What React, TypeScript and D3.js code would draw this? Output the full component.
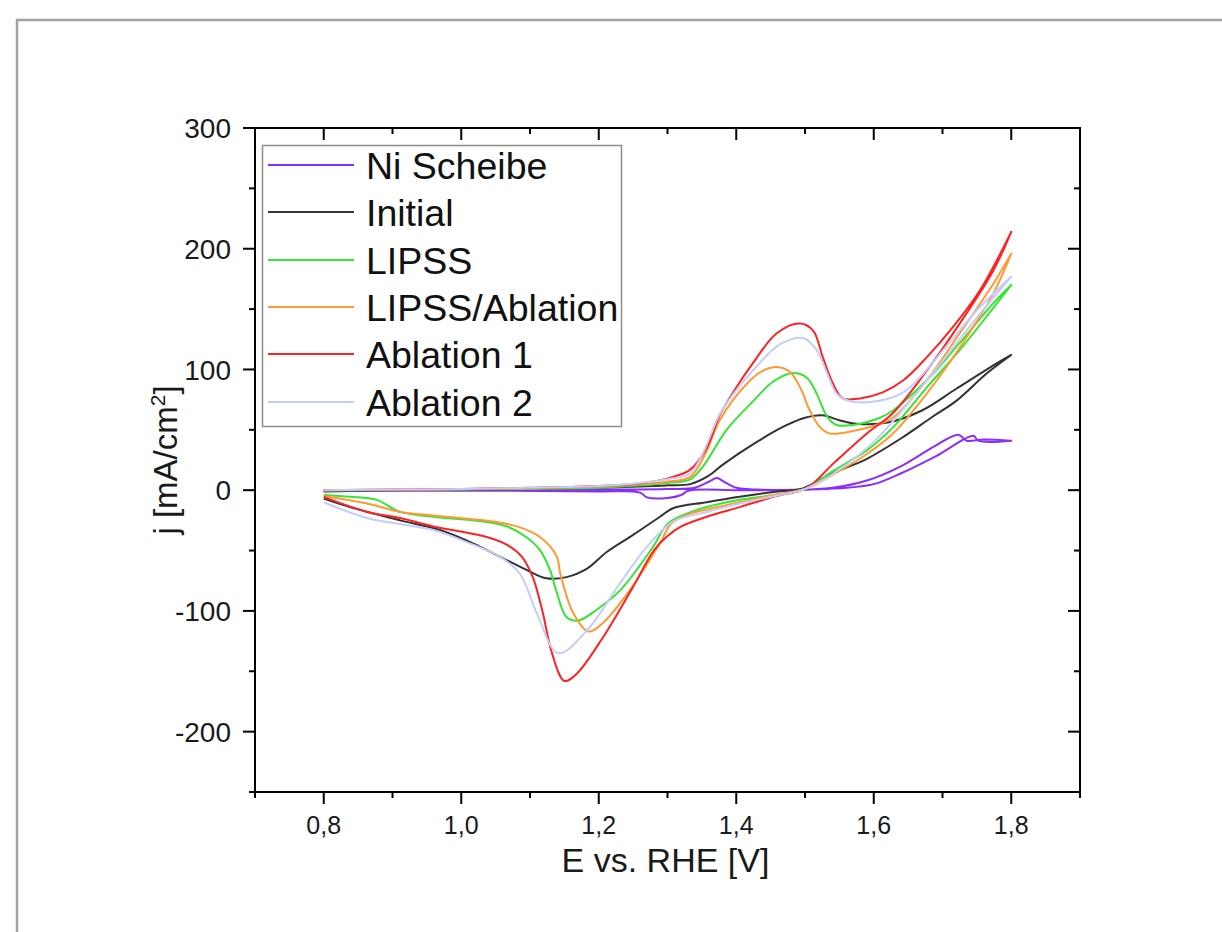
import React from "react";
import * as d3 from "d3";

type P = [number, number];

// Ni Scheibe
const niFwd: P[] = [[0.8,0],[0.9,0],[1.0,0],[1.1,0],[1.2,0.5],[1.3,1],[1.34,2],[1.36,7],[1.372,10],[1.385,6],[1.40,2],[1.43,0.5],[1.5,0.5],[1.55,1.5],[1.6,5],[1.64,14],[1.69,28],[1.745,45],[1.752,41],[1.8,41]];
const niBwd: P[] = [[1.8,41],[1.76,42],[1.735,41],[1.723,46],[1.69,37],[1.64,20],[1.59,8],[1.54,2],[1.48,0],[1.4,0],[1.33,-0.5],[1.32,-4],[1.30,-6.5],[1.27,-6],[1.26,-2],[1.2,-1],[1.0,-0.5],[0.8,-0.5]];
// Initial
const initFwd: P[] = [[0.8,-1],[0.9,0],[1.0,0.5],[1.1,1],[1.2,2],[1.26,3],[1.30,4],[1.333,5],[1.36,12],[1.38,21],[1.43,40],[1.47,53],[1.50,60],[1.525,62],[1.55,58],[1.575,55],[1.62,56],[1.67,66],[1.72,84],[1.77,102],[1.8,112]];
const initBwd: P[] = [[1.8,112],[1.765,97],[1.72,74],[1.686,61],[1.64,43],[1.59,26],[1.54,14],[1.497,1.5],[1.454,-1.5],[1.405,-5.5],[1.357,-10],[1.308,-15],[1.289,-22],[1.25,-37],[1.212,-51],[1.183,-65],[1.153,-72],[1.124,-73],[1.095,-66],[1.056,-55],[1.017,-44],[0.969,-33],[0.911,-25],[0.838,-14],[0.8,-7]];
// LIPSS
const lipssFwd: P[] = [[0.8,0],[0.9,0],[1.0,0.5],[1.1,1],[1.2,2],[1.26,4],[1.30,6],[1.333,9],[1.352,20],[1.386,50],[1.425,74],[1.454,90],[1.483,97],[1.503,93],[1.517,80],[1.532,61],[1.546,54],[1.57,54],[1.609,60],[1.628,66],[1.677,91],[1.725,122],[1.774,155],[1.8,170]];
const lipssBwd: P[] = [[1.8,170],[1.774,151],[1.725,116],[1.677,85],[1.628,52],[1.59,33],[1.541,16],[1.5,1],[1.454,-4],[1.405,-8],[1.357,-14],[1.33,-19],[1.30,-28],[1.279,-47],[1.231,-83],[1.197,-99],[1.17,-108],[1.153,-105],[1.138,-83],[1.129,-66],[1.115,-50],[1.095,-39],[1.066,-30],[1.032,-26],[0.959,-22],[0.911,-18],[0.877,-8],[0.838,-5.5],[0.8,-4]];
// LIPSS/Ablation
const lipssAblFwd: P[] = [[0.8,0],[0.9,0.3],[1.0,0.8],[1.1,1.5],[1.2,3],[1.26,5],[1.30,7],[1.333,11],[1.355,30],[1.376,58],[1.415,88],[1.439,99],[1.459,102],[1.478,98],[1.493,85],[1.507,66],[1.522,52],[1.536,47],[1.57,49],[1.609,55],[1.628,60],[1.677,91],[1.725,130],[1.774,171],[1.8,196]];
const lipssAblBwd: P[] = [[1.8,196],[1.774,163],[1.725,118],[1.677,80],[1.628,47],[1.59,30],[1.541,13],[1.5,1],[1.454,-4],[1.405,-10],[1.357,-16],[1.33,-20],[1.305,-28],[1.289,-44],[1.245,-83],[1.206,-110],[1.185,-117],[1.163,-102],[1.144,-69],[1.139,-55],[1.115,-39],[1.081,-30],[1.032,-25],[0.959,-21],[0.911,-18],[0.863,-11],[0.8,-5]];
// Ablation 1
const abl1Fwd: P[] = [[0.8,0],[0.9,0.5],[1.0,1],[1.1,2],[1.2,3.5],[1.26,5.5],[1.308,11],[1.333,17],[1.357,35],[1.376,62],[1.40,85],[1.424,105],[1.459,130],[1.493,138],[1.512,132],[1.526,110],[1.541,88],[1.555,76],[1.58,76],[1.613,81],[1.643,91],[1.677,110],[1.715,135],[1.755,166],[1.8,214]];
const abl1Bwd: P[] = [[1.8,214],[1.774,182],[1.725,138],[1.677,99],[1.628,64],[1.59,47],[1.541,22],[1.503,2],[1.454,-5.5],[1.405,-14],[1.357,-22],[1.32,-30],[1.30,-38],[1.28,-50],[1.25,-80],[1.206,-122],[1.168,-152],[1.15,-158],[1.132,-135],[1.118,-100],[1.104,-72],[1.088,-55],[1.066,-45],[1.032,-38],[0.959,-30],[0.911,-23],[0.863,-18],[0.8,-5.5]];
// Ablation 2
const abl2Fwd: P[] = [[0.8,0],[0.9,0.5],[1.0,1],[1.1,2],[1.2,3.5],[1.26,6],[1.30,9],[1.333,14],[1.355,35],[1.376,63],[1.424,99],[1.464,121],[1.497,126],[1.517,116],[1.532,97],[1.546,80],[1.561,74.5],[1.595,73],[1.643,81],[1.701,116],[1.75,149],[1.8,177]];
const abl2Bwd: P[] = [[1.8,177],[1.75,143],[1.7,107],[1.65,72],[1.6,40],[1.55,17],[1.5,1],[1.454,-5],[1.405,-11],[1.357,-18],[1.308,-26],[1.27,-47],[1.231,-77],[1.183,-116],[1.141,-135],[1.11,-102],[1.085,-69],[1.056,-55],[1.008,-43],[0.959,-33],[0.863,-23],[0.8,-10]];

const seriesNames = ["Ni Scheibe", "Initial", "LIPSS", "LIPSS/Ablation", "Ablation 1", "Ablation 2"];
const seriesColors = ["#8a2eff", "#333333", "#33e633", "#ff9933", "#ff2222", "#c4ccfa"];
const seriesData: P[][] = [
  [...niFwd, ...niBwd],
  [...initFwd, ...initBwd],
  [...lipssFwd, ...lipssBwd],
  [...lipssAblFwd, ...lipssAblBwd],
  [...abl1Fwd, ...abl1Bwd],
  [...abl2Fwd, ...abl2Bwd],
];

const xMajor = [0.8, 1.0, 1.2, 1.4, 1.6, 1.8];
const xMinor = [0.7, 0.9, 1.1, 1.3, 1.5, 1.7, 1.9];
const yMajor = [300, 200, 100, 0, -100, -200];
const yMinor = [250, 150, 50, -50, -150, -250];

const W = 1222, H = 932;
const L = 255, R = 1080, T = 128, B = 792;

export default function App() {
  const x = d3.scaleLinear().domain([0.7, 1.9]).range([L, R]);
  const y = d3.scaleLinear().domain([-250, 300]).range([B, T]);
  const line = d3.line<P>().x(d => x(d[0])).y(d => y(d[1])).curve(d3.curveCatmullRom.alpha(0.5));
  const font = "'Liberation Sans', Arial, sans-serif";
  const fmt = (v: number) => v.toFixed(1).replace(".", ",");
  const majLen = 12, minLen = 6;
  const legY = [165, 212, 260, 307, 354, 402];

  return (
    <svg width={W} height={H} style={{ position: "absolute", left: 0, top: 0, background: "#fff" }} fontFamily={font}>
      <rect x={0} y={0} width={W} height={H} fill="#fff" />
      <path d={`M17,${H} L17,20 L${W},20`} fill="none" stroke="#a3a3a3" strokeWidth={2.5} />
      <defs>
        <clipPath id="plotclip"><rect x={L} y={T} width={R - L} height={B - T} /></clipPath>
      </defs>
      <g clipPath="url(#plotclip)">
        {seriesData.map((d, i) => (
          <path key={i} d={line(d) || ""} fill="none" stroke={seriesColors[i]} strokeWidth={2} strokeLinejoin="round" />
        ))}
      </g>
      <rect x={L} y={T} width={R - L} height={B - T} fill="none" stroke="#000" strokeWidth={2} />
      {xMajor.map(v => (
        <g key={"xM" + v}>
          <line x1={x(v)} x2={x(v)} y1={B} y2={B + majLen} stroke="#000" strokeWidth={2} />
          <line x1={x(v)} x2={x(v)} y1={T} y2={T + majLen} stroke="#000" strokeWidth={2} />
          <text x={x(v)} y={B + 42} textAnchor="middle" fontSize={25} fill="#1a1a1a">{fmt(v)}</text>
        </g>
      ))}
      {xMinor.map(v => (
        <g key={"xm" + v}>
          <line x1={x(v)} x2={x(v)} y1={B} y2={B + minLen} stroke="#000" strokeWidth={2} />
          <line x1={x(v)} x2={x(v)} y1={T} y2={T + minLen} stroke="#000" strokeWidth={2} />
        </g>
      ))}
      {yMajor.map(v => (
        <g key={"yM" + v}>
          <line x1={L} x2={L - majLen} y1={y(v)} y2={y(v)} stroke="#000" strokeWidth={2} />
          <line x1={R} x2={R - majLen} y1={y(v)} y2={y(v)} stroke="#000" strokeWidth={2} />
          <text x={231} y={y(v)} dy="0.36em" textAnchor="end" fontSize={28} fill="#1a1a1a">{v}</text>
        </g>
      ))}
      {yMinor.map(v => (
        <g key={"ym" + v}>
          <line x1={L} x2={L - minLen} y1={y(v)} y2={y(v)} stroke="#000" strokeWidth={2} />
          <line x1={R} x2={R - minLen} y1={y(v)} y2={y(v)} stroke="#000" strokeWidth={2} />
        </g>
      ))}
      <text x={(L + R) / 2 - 2} y={872} textAnchor="middle" fontSize={34} fill="#1a1a1a">E vs. RHE [V]</text>
      <text transform={`translate(177,${(T + B) / 2}) rotate(-90)`} textAnchor="middle" fontSize={33} fill="#1a1a1a">
        j [mA/cm<tspan dy="-12" fontSize={21}>2</tspan><tspan dy="12">]</tspan>
      </text>
      <rect x={262.5} y={145.5} width={359} height={281} fill="#fff" stroke="#8c8c8c" strokeWidth={1.5} />
      {seriesNames.map((n, i) => (
        <g key={n}>
          <line x1={268} x2={354} y1={legY[i]} y2={legY[i]} stroke={seriesColors[i]} strokeWidth={2} />
          <text x={366} y={legY[i]} dy="0.36em" fontSize={37.5} fill="#111">{n}</text>
        </g>
      ))}
    </svg>
  );
}
